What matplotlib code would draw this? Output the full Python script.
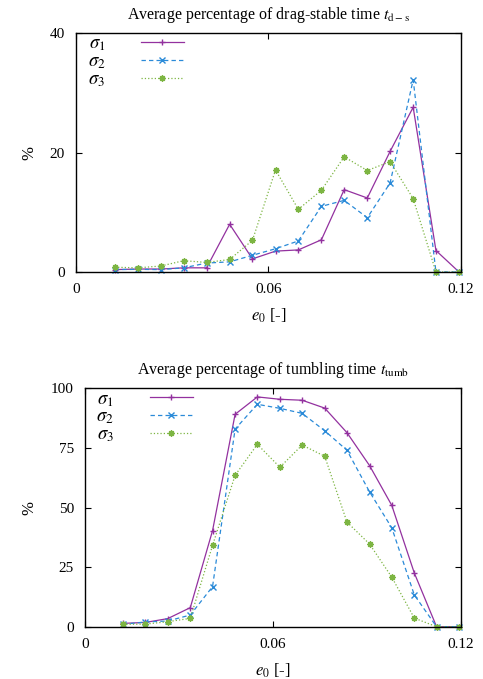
import matplotlib
matplotlib.use("Agg")
import matplotlib.pyplot as plt

plt.rcParams['font.family'] = ['Liberation Serif', 'DejaVu Serif']
plt.rcParams['mathtext.fontset'] = 'stix'

# e0 values (shared by both panels)
e0 = [0.0121, 0.0193, 0.0264, 0.0336, 0.0407, 0.0479, 0.0550, 0.0622,
      0.0693, 0.0765, 0.0836, 0.0908, 0.0979, 0.1051, 0.1122, 0.1194]

# drag-stable time (%)
ds_s1 = [0.4, 0.5, 0.5, 0.7, 0.7, 8.0, 2.2, 3.5, 3.7, 5.4, 13.8, 12.4, 20.2, 27.6, 3.6, 0.0]
ds_s2 = [0.4, 0.45, 0.4, 0.7, 1.5, 1.7, 2.8, 3.9, 5.2, 11.0, 12.0, 9.1, 14.9, 32.2, 0.0, 0.0]
ds_s3 = [0.8, 0.7, 1.0, 1.9, 1.6, 2.1, 5.3, 17.1, 10.5, 13.7, 19.3, 17.0, 18.5, 12.3, 0.0, 0.0]

# tumbling time (%)
tb_s1 = [1.4, 1.8, 3.4, 8.0, 40.3, 89.1, 96.4, 95.4, 95.0, 91.7, 81.4, 67.6, 50.9, 22.5, 0.0, 0.0]
tb_s2 = [1.0, 2.0, 2.4, 4.9, 16.8, 82.9, 93.3, 91.6, 89.5, 82.2, 74.0, 56.6, 41.5, 13.3, 0.0, 0.0]
tb_s3 = [1.0, 1.1, 2.1, 3.5, 34.1, 63.5, 76.5, 66.9, 76.2, 71.5, 43.9, 34.7, 20.8, 3.6, 0.0, 0.0]

labels = [r'$\sigma_1$', r'$\sigma_2$', r'$\sigma_3$']
colors = ['#93319f', '#2a8ad8', '#7db543']
styles = ['-', (0, (3.5, 2.5)), ':']
markers = ['+', 'x', (8, 2, 0)]

fig = plt.figure(figsize=(4.83, 6.79), dpi=100)
ax1 = fig.add_axes([0.1573, 0.5994, 0.7971, 0.3516])
ax2 = fig.add_axes([0.1760, 0.0770, 0.7785, 0.3511])


def draw(ax, series, yticks, title, ylab_x):
    for ys, lab, c, ls, m in zip(series, labels, colors, styles, markers):
        ax.plot(e0, ys, color=c, linestyle=ls, marker=m, markersize=4.5,
                markeredgewidth=1.0, linewidth=0.9, label=lab, clip_on=False)
    ax.set_xlim(0, 0.12)
    ax.set_ylim(yticks[0], yticks[-1])
    ax.set_xticks([0, 0.06, 0.12])
    ax.set_xticklabels(['0', '0.06', '0.12'])
    ax.set_yticks(yticks)
    ax.tick_params(direction='in', top=True, right=True, length=4, width=0.8,
                   labelsize=11, pad=8)
    for sp in ax.spines.values():
        sp.set_linewidth(1.0)
    ax.set_xlabel(r'$e_0$ [-]', fontsize=12, labelpad=7.5)
    ax.set_ylabel('%', fontsize=12)
    ax.yaxis.set_label_coords(ylab_x, 0.5)
    ax.set_title(title, fontsize=11.5, pad=10)
    ax.legend(loc='upper left', bbox_to_anchor=(0.03, 0.99), frameon=False,
              markerfirst=False, fontsize=13.5, handlelength=2.3,
              handletextpad=1.9, labelspacing=0.0, borderaxespad=0,
              borderpad=0)


draw(ax1, [ds_s1, ds_s2, ds_s3], [0, 20, 40],
     r'Average percentage of drag-stable time $t_{\mathrm{d-s}}$', -0.101)
draw(ax2, [tb_s1, tb_s2, tb_s3], [0, 25, 50, 75, 100],
     r'Average percentage of tumbling time $t_{\mathrm{tumb}}$', -0.128)

fig.savefig('out.png', dpi=100)
